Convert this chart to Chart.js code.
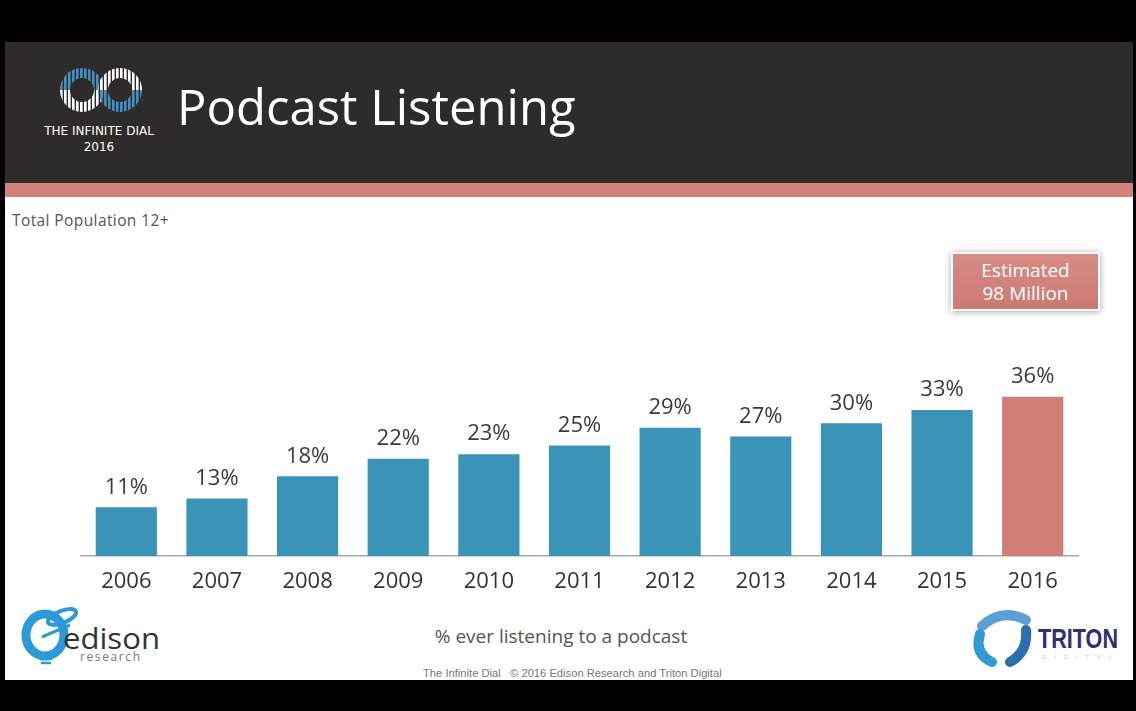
<!DOCTYPE html>
<html><head><meta charset="utf-8">
<script src="https://cdn.jsdelivr.net/npm/chart.js@4"></script>
<style>
html,body{margin:0;padding:0;width:1136px;height:711px;overflow:hidden;background:#000;font-family:"Open Sans",sans-serif;}
#slide{position:absolute;left:5px;top:42px;width:1128px;height:638px;background:#fff;}
#hdr{position:absolute;left:5px;top:42px;width:1128px;height:141px;background:#2f2b2a;}
#strip{position:absolute;left:5px;top:183px;width:1128px;height:14px;background:#d4837b;}
#title{position:absolute;left:177px;top:82px;color:#fff;font-size:49px;line-height:49px;white-space:nowrap;}
#dial{position:absolute;left:39px;top:123px;width:120px;text-align:center;color:#fff;font-family:"DejaVu Sans",sans-serif;font-size:12px;line-height:16px;}
#sub{position:absolute;left:12px;top:209px;color:#555;font-size:15.5px;letter-spacing:0.4px;}
#est{position:absolute;left:951px;top:252px;width:149px;height:59px;background:linear-gradient(#d88c84,#cb7a72);border:2px solid #fff;box-shadow:0 1px 7px rgba(0,0,0,0.35);color:#fff;font-size:19px;line-height:23px;text-align:center;box-sizing:border-box;padding-top:5px;}
#cap{position:absolute;left:0;width:1122px;top:623px;text-align:center;color:#555;font-size:19px;}
#copy{position:absolute;left:423px;top:667px;color:#777;font-family:"Liberation Sans",Arial,sans-serif;font-size:11.2px;white-space:nowrap;}
#edison{position:absolute;left:20px;top:603px;}
#triton{position:absolute;left:970px;top:606px;}
canvas{position:absolute;left:0;top:0;}
</style></head>
<body>
<div id="slide"></div>
<div id="hdr"></div>
<div id="strip"></div>
<svg style="position:absolute;left:0;top:0" width="160" height="120">
  <defs>
    <pattern id="pb" patternUnits="userSpaceOnUse" width="4" height="10"><rect x="0" y="0" width="2.6" height="10" fill="#3f8fc4"/></pattern>
    <pattern id="pw" patternUnits="userSpaceOnUse" width="4" height="10"><rect x="0" y="0" width="2.6" height="10" fill="#ffffff"/></pattern>
  </defs>
  <g fill="none" stroke-width="10">
    <path d="M65 90 A17 17 0 0 1 99 90" stroke="url(#pb)"/>
    <path d="M65 90 A17 17 0 0 0 99 90" stroke="url(#pw)"/>
    <path d="M103 90 A17 17 0 0 1 137 90" stroke="url(#pw)"/>
    <path d="M103 90 A17 17 0 0 0 137 90" stroke="url(#pb)"/>
  </g>
</svg>
<div id="dial">THE INFINITE DIAL<br>2016</div>
<div id="title">Podcast Listening</div>
<div id="sub">Total Population 12+</div>
<div id="est">Estimated<br>98 Million</div>
<div id="cap">% ever listening to a podcast</div>
<div id="copy">The Infinite Dial&nbsp;&nbsp; © 2016 Edison Research and Triton Digital</div>
<div id="edison">
<svg width="150" height="66">
  <ellipse cx="25" cy="32" rx="19" ry="21" fill="none" stroke="#2a9ad8" stroke-width="9"/>
  <path d="M22 34 L50 22" stroke="#2a9ad8" stroke-width="3"/>
  <ellipse cx="42" cy="14" rx="15" ry="6" fill="none" stroke="#2a9ad8" stroke-width="4" transform="rotate(-22 42 14)"/>
  <path d="M20 56 L32 56 M21 60 L31 60" stroke="#2a9ad8" stroke-width="2.5"/>
  <text x="43" y="46" font-family="Open Sans" font-size="30" fill="#333" textLength="97" lengthAdjust="spacingAndGlyphs">edison</text>
  <text x="60" y="58" font-family="Open Sans" font-size="12" fill="#777" textLength="60" lengthAdjust="spacing">research</text>
</svg></div>
<div id="triton">
<svg width="160" height="64">
  <path d="M12 20 Q32 2 56 14" stroke="#5b9fd4" stroke-width="10" fill="none" stroke-linecap="round"/>
  <path d="M10 28 Q4 48 22 56" stroke="#2f9ad6" stroke-width="10" fill="none" stroke-linecap="round"/>
  <path d="M56 24 Q58 46 40 56" stroke="#2b6fb3" stroke-width="10" fill="none" stroke-linecap="round"/>
  <text x="68" y="42" font-family="Liberation Sans Narrow, Liberation Sans" font-weight="bold" font-size="28" fill="#2f3070" textLength="80" lengthAdjust="spacingAndGlyphs">TRITON</text>
  <text x="72" y="53" font-family="Liberation Sans" font-size="6" fill="#c8c8d0" textLength="70" lengthAdjust="spacing">DIGITAL</text>
</svg></div>
<canvas id="c" width="1136" height="711"></canvas>
<script>
const categories = ["2006","2007","2008","2009","2010","2011","2012","2013","2014","2015","2016"];
const values = [11,13,18,22,23,25,29,27,30,33,36];
const barColors = ["#3a94b8","#3a94b8","#3a94b8","#3a94b8","#3a94b8","#3a94b8","#3a94b8","#3a94b8","#3a94b8","#3a94b8","#d17f76"];

const labelPlugin = {
  id:'vals',
  afterDatasetsDraw(chart){
    const ctx = chart.ctx;
    const meta = chart.getDatasetMeta(0);
    ctx.save();
    ctx.font = '22px "Open Sans"';
    ctx.fillStyle = '#3a3a3a';
    ctx.textAlign = 'center';
    ctx.textBaseline = 'middle';
    meta.data.forEach((el,i)=>{
      ctx.fillText(values[i] + '%', el.x, el.y - 20);
    });
    ctx.restore();
  }
};

new Chart(document.getElementById('c'), {
  type:'bar',
  data:{labels:categories, datasets:[{data:values, backgroundColor:barColors, borderWidth:0, categoryPercentage:1, barPercentage:0.675}]},
  options:{
    responsive:false, animation:false,
    layout:{padding:{left:81, right:58, top:379, bottom:0}},
    plugins:{legend:{display:false}, tooltip:{enabled:false}},
    scales:{
      x:{
        grid:{display:true, color:'rgba(0,0,0,0)', drawOnChartArea:false, drawTicks:false},
        border:{display:true, color:'#a6a6a6', width:1.5},
        ticks:{color:'#333', font:{family:'Open Sans', size:22}, padding:13},
        afterFit(s){ s.height = 155; }
      },
      y:{display:false, min:0, max:40}
    }
  },
  plugins:[labelPlugin]
});
</script>
</body></html>
